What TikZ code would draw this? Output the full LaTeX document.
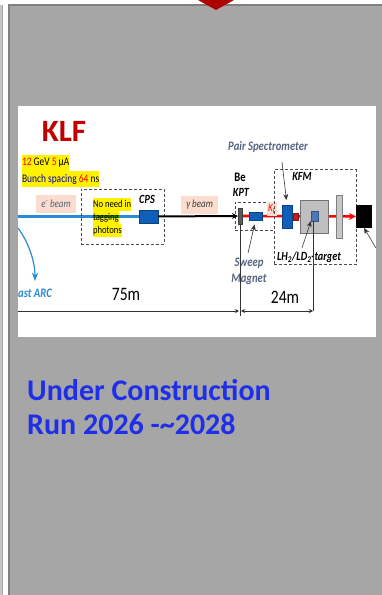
\documentclass[tikz,border=0pt]{standalone}
\usepackage{fontspec}
\setmainfont{Carlito}
\newfontfamily\labelfont[FakeStretch=0.82]{Carlito}
\usetikzlibrary{arrows.meta, backgrounds}

\definecolor{panelgray}{HTML}{A6A6A6}
\definecolor{edgegray}{HTML}{808080}
\definecolor{klfred}{HTML}{C00000}
\definecolor{headblue}{HTML}{1F2FE8}
\definecolor{beamblue}{HTML}{2B8AD2}
\definecolor{boxblue}{HTML}{0F5FB8}
\definecolor{targetblue}{HTML}{4A78B8}
\definecolor{kptgray}{HTML}{595959}
\definecolor{kickerred}{HTML}{CC1A1A}
\definecolor{labelpink}{HTML}{FBDCCF}
\definecolor{labelslate}{HTML}{55657F}

\begin{document}
\begin{tikzpicture}[
  x=1pt, y=-1pt,
  font=\small,
  >=Stealth,
  block/.style={draw=#1!70!black, fill=#1, line width=0.7pt, inner sep=0pt, outer sep=0pt},
  marker/.style={fill=yellow, inner sep=0pt, outer sep=0pt, anchor=west, text height=10pt, text depth=3pt,
                 font=\labelfont\fontsize{#1}{12}\selectfont},
  marker/.default=11.5,
  pinklabel/.style={fill=labelpink, inner sep=0pt, minimum height=18pt,
                    font=\labelfont\fontsize{11}{12}\selectfont\itshape},
  annot/.style={font=\labelfont\fontsize{12.5}{13}\selectfont\bfseries\itshape, inner sep=0pt},
  slate/.style={font=\labelfont\fontsize{13}{13}\selectfont\bfseries\itshape, text=labelslate, inner sep=0pt},
  dist/.style={font=\labelfont\fontsize{19}{19}\selectfont, inner sep=0pt},
  heading/.style={font=\fontsize{30}{30}\bfseries\selectfont, text=headblue, inner sep=0pt, anchor=west},
  dashbox/.style={draw=black!70, densely dashed, line width=0.9pt, inner sep=0pt, outer sep=0pt},
  ptr/.style={->, line width=0.6pt, color=black!80, >={Stealth[length=6pt,width=5pt]}},
  rule/.style={line width=0.9pt, color=black!80},
]
\useasboundingbox (0,0) rectangle (381,595);

%% ---------- Panel and picture ------------------------------------
\begin{scope}[on background layer]
  \fill[white] (0,0) rectangle (381,595);
  \fill[black!22] (0,5) rectangle (3,595);
  \draw[panelgray, line width=1pt] (2.5,5) -- (2.5,595);
  \draw[edgegray, line width=1.5pt, fill=panelgray] (9,5) rectangle (384,600);
  \fill[white] (18,106) rectangle (376,337);
  \fill[klfred!90!black] (198,0) -- (234,0) -- (216,10) -- cycle;
\end{scope}

%% ---------- Left part: electrons ---------------------------------
\node[font=\fontsize{31}{31}\bfseries\selectfont, text=klfred, inner sep=0pt] (klf) at (64,131) {KLF};
\node[marker, text height=11pt, text depth=5pt] (current) at (22,162.5)
      {\textcolor{red}{12} GeV \textcolor{red}{5} µA};
\node[marker, text height=11pt, text depth=5pt] (bunch) at (22,179)
      {\textcolor{blue!60!black}{Bunch spacing} \textcolor{red}{64} ns};
\node[pinklabel, minimum width=40pt, text=labelslate] (ebeam) at (56,204) {e\textsuperscript{-} beam};
\coordinate (ebeamstart) at (18,216.5);

\node[dashbox, minimum width=83pt, minimum height=55pt] (cpsfield) at (122.5,216.5) {};
\node[marker=10.5] (noneed)  at (93,204) {No need in};
\node[marker=10.5] (tagging) at (93,217) {tagging};
\node[marker=10.5] (photons) at (93,230) {photons};
\node[annot] (cpstext) at (147,199) {CPS};
\node[block=boxblue, minimum width=19pt, minimum height=13pt] (cps) at (148.5,216.5) {};

\node[pinklabel, minimum width=37pt, text=black!75] (gbeam) at (199.5,205) {γ beam};

%% ---------- Right part: kaon line --------------------------------
\node[annot, font=\labelfont\fontsize{13}{13}\selectfont\bfseries] (betext) at (240,177) {Be};
\node[annot] (kpttext) at (241,192) {KPT};
\node[block=kptgray, minimum width=4pt, minimum height=16pt] (kpt) at (240,216) {};
\node[dashbox, minimum width=39pt, minimum height=28pt] (sweepfield) at (254.5,216) {};
\node[block=boxblue, minimum width=13pt, minimum height=8pt] (sweep) at (255.5,216.5) {};
\node[fill=labelpink, inner sep=0pt, minimum width=10pt, minimum height=14pt,
      font=\labelfont\fontsize{11}{11}\selectfont\itshape, text=red] (kl) at (272,209) {K\textsubscript{L}};

\node[slate] (pairtext) at (268,147) {Pair Spectrometer};
\node[dashbox, minimum width=82pt, minimum height=95pt] (kfmfield) at (315,217) {};
\node[annot] (kfmtext) at (302,176) {KFM};
\node[block=boxblue, minimum width=10pt, minimum height=23pt] (pair) at (287,216.5) {};
\node[block=kickerred, minimum width=5pt, minimum height=7pt] (kicker) at (295.5,216.5) {};
\node[draw=black!55, fill=black!25, line width=0.7pt, inner sep=0pt, outer sep=0pt,
      minimum width=28pt, minimum height=33pt] (kfmblock) at (314.5,217) {};
\node[block=targetblue, minimum width=7pt, minimum height=10pt] (target) at (314.5,216) {};
\node[draw=black!50, fill=black!22, line width=0.6pt, inner sep=0pt, outer sep=0pt,
      minimum width=6pt, minimum height=43pt] (bar) at (339,216.5) {};
\node[fill=black, inner sep=0pt, outer sep=0pt, minimum width=16pt, minimum height=23pt] (dump) at (364,216.5) {};

\node[annot] (lhtext) at (309,257) {LH\textsubscript{2}/LD\textsubscript{2}-target};
\node[slate] (sweeptext) at (249,263) {Sweep};
\node[slate] (magnettext) at (249,279) {Magnet};

%% ---------- Distances --------------------------------------------
\node[dist] (dist75) at (126,294) {75m};
\node[dist] (dist24) at (285,297) {24m};
\node[font=\labelfont\fontsize{13}{13}\selectfont\bfseries\itshape, text=beamblue, inner sep=0pt, anchor=west] (arctext) at (18,293) {ast ARC};
\coordinate (rulestart) at (18,311);
\coordinate (ruleleft) at (240,311);
\coordinate (ruleright) at (313,311);
\coordinate (kptfoot) at (240,316);

%% ---------- Heading -----------------------------------------------
\node[heading] (headone) at (27,390) {Under Construction};
\node[heading] (headtwo) at (27,424) {Run 2026 -\symbol{126}2028};

%% ---- Arrows ---------------------------------------------------
\coordinate (arcstart) at (18,228);
\coordinate (arcend) at (35,281);
\coordinate (pairfrom) at (282,162);
\coordinate (sweepfrom) at (248,253);
\coordinate (lhfrom) at (302,248);
\coordinate (dumpfrom) at (376,248);

\draw[beamblue, line width=2.2pt, blend mode=multiply] (ebeamstart) -- (cps);
\draw[line width=2pt, ->, >={Stealth[length=6pt,width=6pt]}] (cps) -- (kpt);
\draw[beamblue, line width=1.2pt, ->] (arcstart) .. controls (29,243) and (35,262) .. (arcend);

\begin{scope}[on background layer]
  \draw[red, line width=2.6pt, ->, >={Stealth[length=7pt,width=7pt]}] (kpt) -- (dump);
\end{scope}

\draw[ptr, shorten >=5pt] (pairfrom) -- (pair.north);
\draw[ptr, shorten >=4pt] (sweepfrom) -- (sweep.south);
\draw[ptr] (lhfrom) -- (target.south west);
\draw[ptr] (dumpfrom) -- (dump.south);

\draw[rule] (kpt.south) -- (kptfoot);
\draw[rule] (target.south -| ruleright) -- (ruleright);
\draw[rule, ->, >={Stealth[length=4pt,width=4pt]}, shorten >=1pt] (rulestart) -- (ruleleft);
\draw[rule, <->, >={Stealth[length=4pt,width=4pt]}, shorten <=1pt] (ruleleft) -- (ruleright);
\end{tikzpicture}
\end{document}
